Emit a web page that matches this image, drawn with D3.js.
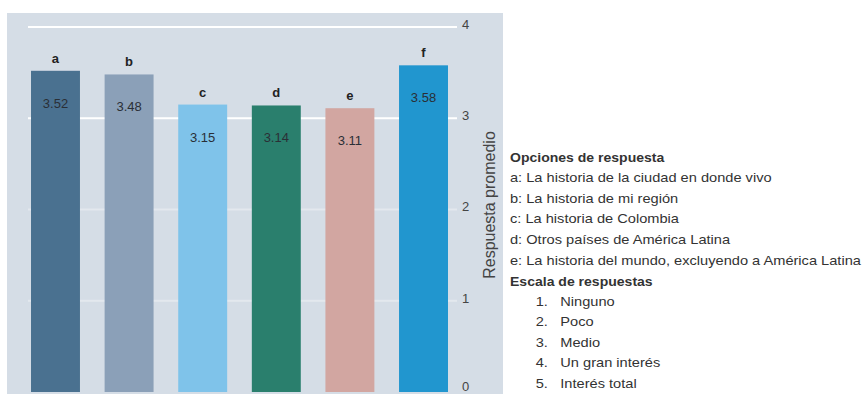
<!DOCTYPE html>
<html><head><meta charset="utf-8">
<script src="https://cdn.jsdelivr.net/npm/d3@7"></script>
<style>body{margin:0;background:#fff}svg{display:block}</style>
</head><body>
<svg id="c" width="864" height="394"></svg>
<script>
const categories = ["a","b","c","d","e","f"];
const values = [3.52, 3.48, 3.15, 3.14, 3.11, 3.58];
const valueLabels = ["3.52","3.48","3.15","3.14","3.11","3.58"];
const colors = ["#4a7190","#8ba0b8","#7fc3ea","#2a7f6d","#d2a6a1","#2196cf"];
const yTicks = [0,1,2,3,4];
const yTitle = "Respuesta promedio";
const legendOptionsTitle = "Opciones de respuesta";
const legendOptions = [
  "a: La historia de la ciudad en donde vivo",
  "b: La historia de mi región",
  "c: La historia de Colombia",
  "d: Otros países de América Latina",
  "e: La historia del mundo, excluyendo a América Latina"
];
const legendScaleTitle = "Escala de respuestas";
const scaleNums = ["1.","2.","3.","4.","5."];
const scaleLabels = ["Ninguno","Poco","Medio","Un gran interés","Interés total"];

const svg = d3.select("#c");
const font = "'Liberation Sans', Arial, sans-serif";

// panel
svg.append("rect").attr("x",7).attr("y",13).attr("width",496).attr("height",381).attr("fill","#d5dde6");

const y = d3.scaleLinear().domain([0,4]).range([392,27]);
const x = d3.scaleBand().domain(categories).range([18.5,460.5]).paddingInner(0.335).paddingOuter(0.17);

// gridlines
svg.append("g").selectAll("line").data(yTicks.filter(t=>t>0)).join("line")
  .attr("x1",28).attr("x2",457)
  .attr("y1",d=>y(d)).attr("y2",d=>y(d))
  .attr("stroke","#ffffff").attr("stroke-width",2)
  .attr("opacity",d=>d>=3?1:0.35);

// axis
const axis = d3.axisRight(y).tickValues(yTicks).tickSize(0).tickPadding(0).tickFormat(d3.format("d"));
const ag = svg.append("g").attr("transform","translate(462,0)").call(axis);
ag.select(".domain").remove();
ag.selectAll("text").attr("font-family",font).attr("font-size",13).attr("fill","#444")
  .attr("dy",d=>d===0?"-0.1em":"0.1em");

// bars
svg.append("g").selectAll("rect").data(values).join("rect")
  .attr("x",(d,i)=>x(categories[i]))
  .attr("width",x.bandwidth())
  .attr("y",d=>y(d))
  .attr("height",d=>y(0)-y(d))
  .attr("fill",(d,i)=>colors[i]);

// letters
svg.append("g").selectAll("text").data(values).join("text")
  .attr("x",(d,i)=>x(categories[i])+x.bandwidth()/2)
  .attr("y",d=>y(d)-8)
  .attr("text-anchor","middle")
  .attr("font-family",font).attr("font-size",13).attr("font-weight","bold").attr("fill","#222")
  .text((d,i)=>categories[i]);

// values
svg.append("g").selectAll("text").data(values).join("text")
  .attr("x",(d,i)=>x(categories[i])+x.bandwidth()/2)
  .attr("y",d=>y(d)+37)
  .attr("text-anchor","middle")
  .attr("font-family",font).attr("font-size",13).attr("fill","#2a2f36")
  .text((d,i)=>valueLabels[i]);

// y title
svg.append("text")
  .attr("transform","translate(495,205) rotate(-90)")
  .attr("text-anchor","middle")
  .attr("font-family",font).attr("font-size",16).attr("fill","#444")
  .text(yTitle);

// legend
const lx = 510;
const lg = svg.append("g").attr("font-family",font).attr("font-size",12.5).attr("fill","#333")
  .attr("transform",`translate(${lx},0) scale(1.17,1) translate(${-lx},0)`);
lg.append("text").attr("x",lx).attr("y",162).attr("font-weight","bold").attr("font-size",12).text(legendOptionsTitle);
lg.selectAll("text.opt").data(legendOptions).join("text").attr("class","opt")
  .attr("x",lx).attr("y",(d,i)=>182+i*20.7).text(d=>d);
lg.append("text").attr("x",lx).attr("y",286).attr("font-weight","bold").attr("font-size",12).text(legendScaleTitle);
lg.selectAll("text.num").data(scaleNums).join("text").attr("class","num")
  .attr("x",532).attr("y",(d,i)=>306+i*20.5).text(d=>d);
lg.selectAll("text.sl").data(scaleLabels).join("text").attr("class","sl")
  .attr("x",553).attr("y",(d,i)=>306+i*20.5).text(d=>d);
</script>
</body></html>
